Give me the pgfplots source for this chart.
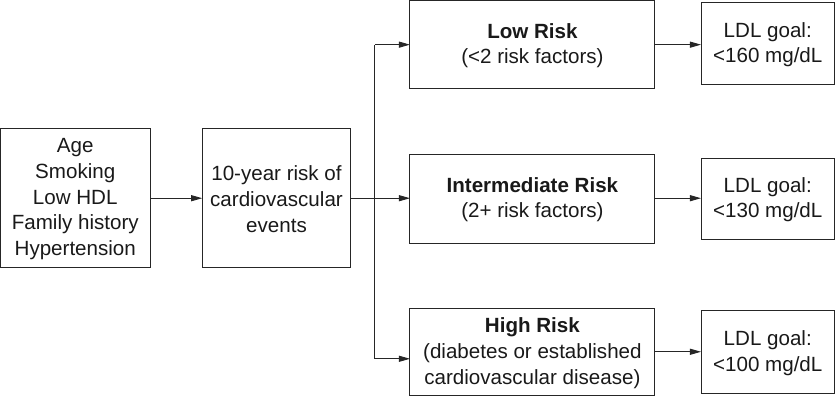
\documentclass[border=0pt]{standalone}
\usepackage{pgfplots}
\pgfplotsset{compat=1.18}
\usepackage{fontspec}
\setmainfont{Liberation Sans}
\usetikzlibrary{arrows.meta}
\begin{document}
\begin{tikzpicture}[x=1pt,y=1pt]
\begin{axis}[width=835pt,height=400pt,scale only axis,
  xmin=0,xmax=835,ymin=0,ymax=400,y dir=reverse,hide axis,clip=false]
% boxes
\draw[line width=1pt,color=black!85] (axis cs:3,133) rectangle (axis cs:152,271);
\draw[line width=1pt,color=black!85] (axis cs:204,133) rectangle (axis cs:352,271);
\draw[line width=1pt,color=black!85] (axis cs:411,5) rectangle (axis cs:655,93);
\draw[line width=1pt,color=black!85] (axis cs:411,158) rectangle (axis cs:655,247);
\draw[line width=1pt,color=black!85] (axis cs:411,312) rectangle (axis cs:655,399);
\draw[line width=1pt,color=black!85] (axis cs:701,7) rectangle (axis cs:834,89);
\draw[line width=1pt,color=black!85] (axis cs:701,162) rectangle (axis cs:834,243);
\draw[line width=1pt,color=black!85] (axis cs:701,314) rectangle (axis cs:834,397);
% connectors
\draw[line width=1pt,color=black!85,-{Triangle[length=11pt,width=6pt]}] (axis cs:152,202) -- (axis cs:204,202);
\draw[line width=1pt,color=black!85,-{Triangle[length=11pt,width=6pt]}] (axis cs:352,202) -- (axis cs:411,202);
\draw[line width=1pt,color=black!85] (axis cs:376,362) -- (axis cs:376,49);
\draw[line width=1pt,color=black!85,-{Triangle[length=11pt,width=6pt]}] (axis cs:376,49) -- (axis cs:411,49);
\draw[line width=1pt,color=black!85,-{Triangle[length=11pt,width=6pt]}] (axis cs:376,362) -- (axis cs:411,362);
\draw[line width=1pt,color=black!85,-{Triangle[length=11pt,width=6pt]}] (axis cs:655,49) -- (axis cs:701,49);
\draw[line width=1pt,color=black!85,-{Triangle[length=11pt,width=6pt]}] (axis cs:655,202) -- (axis cs:701,202);
\draw[line width=1pt,color=black!85,-{Triangle[length=11pt,width=6pt]}] (axis cs:655,355) -- (axis cs:701,355);
% texts
\tikzset{t/.style={align=center,inner sep=0pt,font=\fontsize{20.5}{25.7}\selectfont,text=black!90}}
\node[t] at (axis cs:77.5,203) {Age\\Smoking\\Low HDL\\Family history\\Hypertension};
\node[t] at (axis cs:278,203) {10-year risk of\\cardiovascular\\events};
\node[t] at (axis cs:533,50) {\textbf{Low Risk}\\(<2 risk factors)};
\node[t] at (axis cs:533,203.5) {\textbf{Intermediate Risk}\\(2+ risk factors)};
\node[t] at (axis cs:533,356.5) {\textbf{High Risk}\\(diabetes or established\\cardiovascular disease)};
\node[t] at (axis cs:767.5,49) {LDL goal:\\<160 mg/dL};
\node[t] at (axis cs:767.5,203.5) {LDL goal:\\<130 mg/dL};
\node[t] at (axis cs:767.5,356.5) {LDL goal:\\<100 mg/dL};
\end{axis}
\end{tikzpicture}
\end{document}
